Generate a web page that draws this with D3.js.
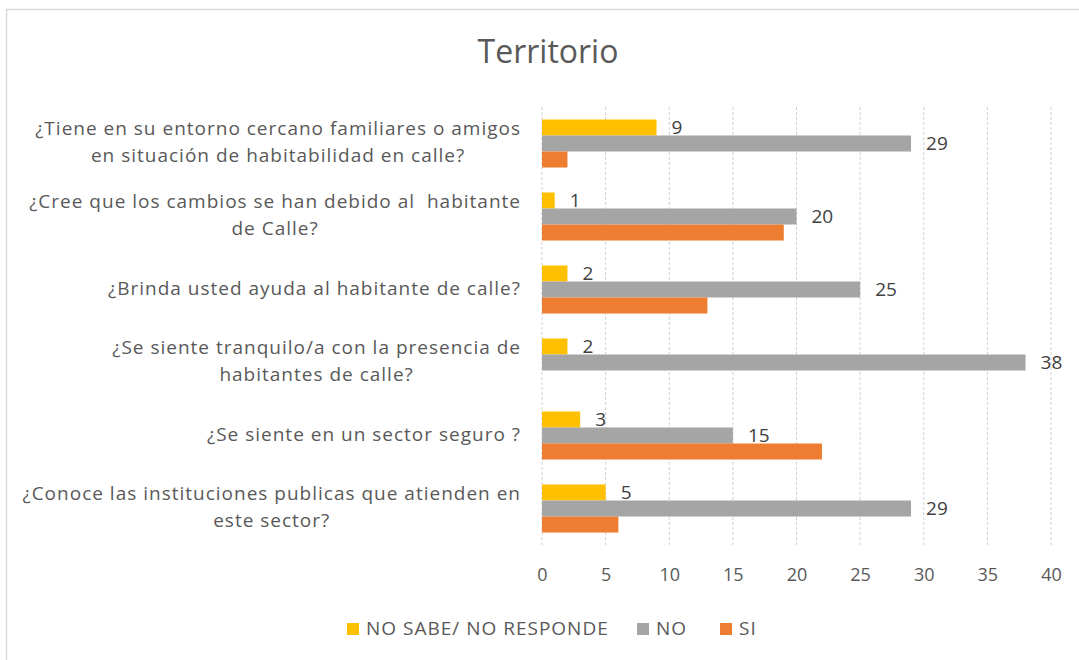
<!DOCTYPE html>
<html>
<head>
<meta charset="utf-8">
<script src="https://cdn.jsdelivr.net/npm/d3@7"></script>
<style>
  body { margin: 0; background: #fff; }
  svg { display: block; font-family: "Open Sans", "Noto Sans", sans-serif; }
</style>
</head>
<body>
<div id="chart"></div>
<script>
// Categories from top to bottom (each label split into its lines)
const categories = [
  ["¿Tiene en su entorno cercano familiares o amigos", "en situación de habitabilidad en calle?"],
  ["¿Cree que los cambios se han debido al  habitante", "de Calle?"],
  ["¿Brinda usted ayuda al habitante de calle?"],
  ["¿Se siente tranquilo/a con la presencia de", "habitantes de calle?"],
  ["¿Se siente en un sector seguro ?"],
  ["¿Conoce las instituciones publicas que atienden en", "este sector?"]
];

const seriesNames = ["NO SABE/ NO RESPONDE", "NO", "SI"];
const seriesColors = ["#FFC000", "#A5A5A5", "#ED7D31"];

const noSabe = [9, 1, 2, 2, 3, 5];
const no = [29, 20, 25, 38, 15, 29];
const si = [2, 19, 13, 0, 22, 6];

const xTicks = [0, 5, 10, 15, 20, 25, 30, 35, 40];

const width = 1079, height = 660;
const textColor = "#595959";

const svg = d3.select("#chart").append("svg")
  .attr("width", width)
  .attr("height", height);

// chart border
svg.append("rect")
  .attr("x", 6.5).attr("y", 9.5)
  .attr("width", width + 20).attr("height", height + 20)
  .style("fill", "none")
  .style("stroke", "#d9d9d9")
  .style("stroke-width", 1.5);

// title
svg.append("text")
  .attr("x", 548).attr("y", 63)
  .style("text-anchor", "middle")
  .style("font-size", "32px")
  .style("fill", textColor)
  .text("Territorio");

const keys = categories.map((d, i) => i);
const x = d3.scaleLinear().domain([0, 40]).range([542, 1051]);
const y = d3.scaleBand().domain(keys).range([107, 545])
  .paddingInner(0.342).paddingOuter(0.171);
const ySub = d3.scaleBand().domain([0, 1, 2]).range([0, y.bandwidth()]);

// gridlines
svg.append("g").selectAll("line")
  .data(xTicks)
  .enter().append("line")
  .attr("x1", d => x(d)).attr("x2", d => x(d))
  .attr("y1", 107).attr("y2", 545)
  .style("stroke", "#d0d0d0")
  .style("stroke-width", 1)
  .style("stroke-dasharray", "3,2");

// x axis labels
const xAxis = svg.append("g")
  .attr("transform", "translate(0,545)")
  .call(d3.axisBottom(x).tickValues(xTicks).tickSize(0).tickPadding(23));
xAxis.select(".domain").remove();
xAxis.selectAll("text")
  .style("font-family", "\"Open Sans\", sans-serif")
  .style("font-size", "18px")
  .style("fill", textColor);

// bars
const allSeries = [noSabe, no, si];
const groups = svg.append("g").selectAll("g")
  .data(keys)
  .enter().append("g")
  .attr("transform", d => `translate(0,${y(d)})`);

groups.selectAll("rect")
  .data(i => allSeries.map((s, k) => ({ k: k, v: s[i] })))
  .enter().append("rect")
  .attr("x", x(0))
  .attr("y", d => ySub(d.k))
  .attr("width", d => x(d.v) - x(0))
  .attr("height", ySub.bandwidth())
  .style("fill", d => seriesColors[d.k]);

// data labels (NO SABE and NO only)
groups.selectAll("text.lbl")
  .data(i => allSeries.slice(0, 2).map((s, k) => ({ k: k, v: s[i] })))
  .enter().append("text")
  .attr("class", "lbl")
  .attr("x", d => x(d.v) + 15)
  .attr("y", d => ySub(d.k) + ySub.bandwidth() / 2 + 1)
  .attr("dominant-baseline", "middle")
  .style("font-size", "19px")
  .style("fill", "#404040")
  .text(d => d.v);

// category labels: lines centred on each other, block right-aligned
const labelRight = 521;
const lineH = 27;
categories.forEach((lines, i) => {
  const cy = y(i) + y.bandwidth() / 2;
  const g = svg.append("g");
  const texts = lines.map((line, j) => g.append("text")
    .attr("y", cy + (j - (lines.length - 1) / 2) * lineH)
    .attr("dominant-baseline", "middle")
    .style("font-size", "19px")
    .style("letter-spacing", "1px")
    .style("white-space", "pre")
    .style("fill", textColor)
    .text(line));
  const widths = texts.map(t => t.node().getComputedTextLength());
  const maxW = d3.max(widths);
  const center = labelRight - maxW / 2;
  texts.forEach(t => t.attr("x", center).style("text-anchor", "middle"));
});

// legend
const legendItems = [
  { name: seriesNames[0], color: seriesColors[0], x: 347 },
  { name: seriesNames[1], color: seriesColors[1], x: 637 },
  { name: seriesNames[2], color: seriesColors[2], x: 720 }
];
const legend = svg.append("g").selectAll("g")
  .data(legendItems)
  .enter().append("g")
  .attr("transform", d => `translate(${d.x},629)`);
legend.append("rect")
  .attr("x", 0).attr("y", -6)
  .attr("width", 12).attr("height", 12)
  .style("fill", d => d.color);
legend.append("text")
  .attr("x", 19).attr("y", 1)
  .attr("dominant-baseline", "middle")
  .style("font-size", "19px")
  .style("letter-spacing", "1px")
  .style("fill", textColor)
  .text(d => d.name);
</script>
</body>
</html>
